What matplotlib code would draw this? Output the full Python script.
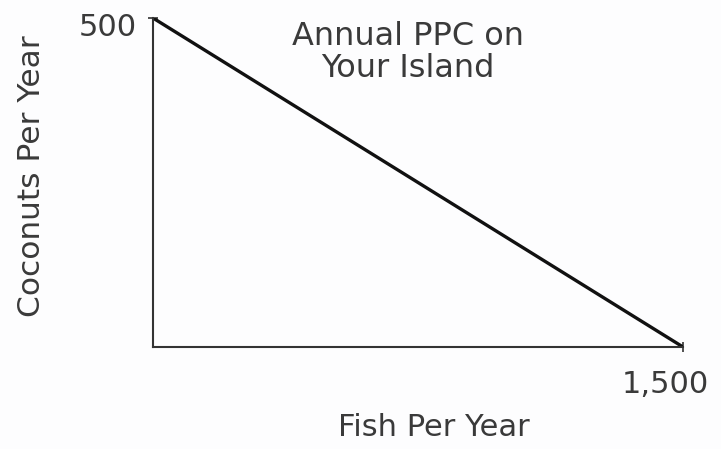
import matplotlib
matplotlib.use("Agg")
import matplotlib.pyplot as plt

# production possibilities: fish vs coconuts
fish = [0, 1500]
coconuts = [500, 0]
title_lines = ["Annual PPC on", "Your Island"]
x_label = "Fish Per Year"
y_label = "Coconuts Per Year"

txt = "#3a3a3a"
plt.rcParams['font.family'] = ['DejaVu Sans']

fig = plt.figure(figsize=(7.21, 4.49), dpi=100)
fig.patch.set_facecolor('#fdfdfe')
ax = fig.add_axes([0.2122, 0.2272, 0.7351, 0.7327])
ax.set_facecolor('none')

ax.plot(fish, coconuts, color='#111111', lw=2.4, solid_capstyle='butt')

ax.set_xlim(0, 1500)
ax.set_ylim(0, 500)
for s in ['top', 'right']:
    ax.spines[s].set_visible(False)
for s in ['left', 'bottom']:
    ax.spines[s].set_color('#333333')
    ax.spines[s].set_linewidth(1.5)

ax.set_xticks([1500])
ax.set_yticks([500])
ax.set_xticklabels([])
ax.set_yticklabels([])
ax.tick_params(axis='both', direction='inout', length=7, width=1.2, color='#333333')

# tick value labels
ax.annotate("500", xy=(0, 500), xytext=(-12, -7), textcoords='offset points',
            ha='right', va='center', fontsize=22, color=txt)
ax.annotate("1,500", xy=(1500, 0), xytext=(-13, -27), textcoords='offset points',
            ha='center', va='center', fontsize=22, color=txt)

fig.text(408 / 721, 1 - 21 / 449, "\n".join(title_lines), ha='center', va='top',
         fontsize=23, color=txt, linespacing=1.05)

fig.text(434 / 721, 1 - 427 / 449, x_label, ha='center', va='center', fontsize=22, color=txt)
fig.text(32 / 721, 1 - 176 / 449, y_label, ha='center', va='center', rotation=90,
         fontsize=22.5, color=txt)

fig.savefig("out.png", dpi=100)
